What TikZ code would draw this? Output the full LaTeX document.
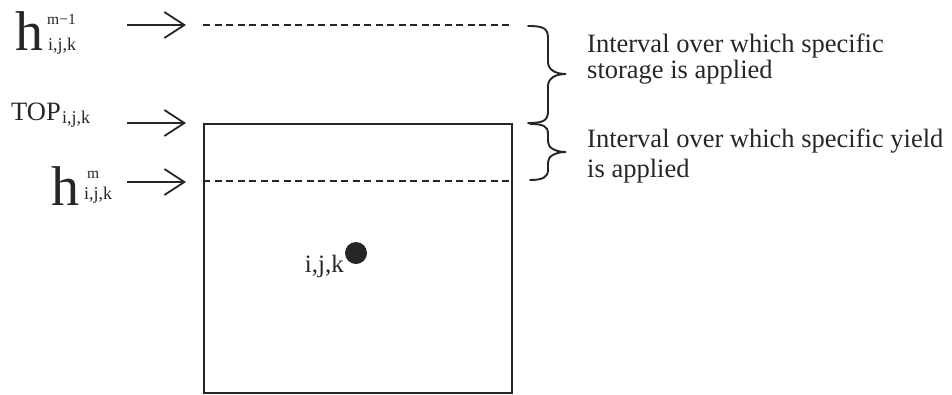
\documentclass[tikz,border=0pt]{standalone}
\usepackage{fontspec}
\setmainfont{Liberation Serif}
\usetikzlibrary{arrows.meta}
\tikzset{
  ink/.style={black!85},
  ptr/.style={ink, line width=1.8pt, -{Straight Barb[length=20pt,width=26pt,line width=1.8pt]}},
  level/.style={ink, line width=1.8pt, dash pattern=on 7pt off 4.5pt},
  brc/.style={ink, line width=1.9pt, line cap=round},
  txt/.style={ink, inner sep=0pt, font=\fontsize{26.5}{26.5}\selectfont},
  big/.style={ink, inner sep=0pt, font=\fontsize{56}{56}\selectfont},
  sub/.style={ink, inner sep=0pt, font=\fontsize{18}{18}\selectfont},
  sup/.style={ink, inner sep=0pt, font=\fontsize{15.5}{15.5}\selectfont},
}
\begin{document}
\begin{tikzpicture}[x=1pt,y=-1pt]
\useasboundingbox (0,0) rectangle (952,394);
% left labels
\node[big, anchor=base west] (h1) at (15,50) {h};
\node[sup, anchor=base west] (h1sup) at (47,24) {m\textminus1};
\node[sub, anchor=base west] (h1sub) at (48,50) {i,j,k};
\node[txt, anchor=base west] (top) at (11,120) {TOP};
\node[sub, anchor=base west] (topsub) at (62,123) {i,j,k};
\node[big, anchor=base west] (h2) at (51,205) {h};
\node[sup, anchor=base west] (h2sup) at (87,178) {m};
\node[sub, anchor=base west] (h2sub) at (84,199) {i,j,k};
% arrows
\coordinate (a1s) at (127,25);  \coordinate (a1e) at (186,25);
\coordinate (a2s) at (127,123); \coordinate (a2e) at (186,123);
\coordinate (a3s) at (127,182); \coordinate (a3e) at (186,182);
\draw[ptr] (a1s) -- (a1e);
\draw[ptr] (a2s) -- (a2e);
\draw[ptr] (a3s) -- (a3e);
% cell
\node[draw, ink, line width=1.8pt, minimum width=308pt, minimum height=269pt, anchor=north west, inner sep=0pt] (cell) at (203,123) {};
\coordinate (d1s) at (203,25); \coordinate (d1e) at (511,25);
\draw[level] (d1s) -- (d1e);
\coordinate (d2s) at (203,181); \coordinate (d2e) at (511,181);
\draw[level] (d2s) -- (d2e);
% node point
\node[circle, fill=black!85, minimum size=22pt, inner sep=0pt] (dot) at (356,253) {};
\node[txt, anchor=base east, font=\fontsize{25}{25}\selectfont] (ijk) at (344,272) {i,j,k};
% braces
\coordinate (b1s) at (528,26); \coordinate (b1t) at (566,74); \coordinate (b1e) at (528,123);
\coordinate (b2s) at (530,124); \coordinate (b2t) at (566,152); \coordinate (b2e) at (530,180);
\draw[brc] (b1s) .. controls (543,26) and (548,28) .. (548,38) -- (548,62)
  .. controls (548,70) and (556,74) .. (b1t)
  .. controls (556,74) and (548,78) .. (548,86) -- (548,111)
  .. controls (548,121) and (543,123) .. (b1e);
\draw[brc] (b2s) .. controls (543,124) and (548,126) .. (548,134) -- (548,142)
  .. controls (548,148) and (556,152) .. (b2t)
  .. controls (556,152) and (548,156) .. (548,162) -- (548,170)
  .. controls (548,177) and (543,180) .. (b2e);
% texts
\node[txt, anchor=base west, align=left, font=\fontsize{26.5}{26}\selectfont] (t1) at (587,78) {Interval over which specific\\storage is applied};
\node[txt, anchor=base west, align=left, font=\fontsize{26.5}{30}\selectfont] (t2) at (587,177) {Interval over which specific yield\\is applied};
\end{tikzpicture}
\end{document}
